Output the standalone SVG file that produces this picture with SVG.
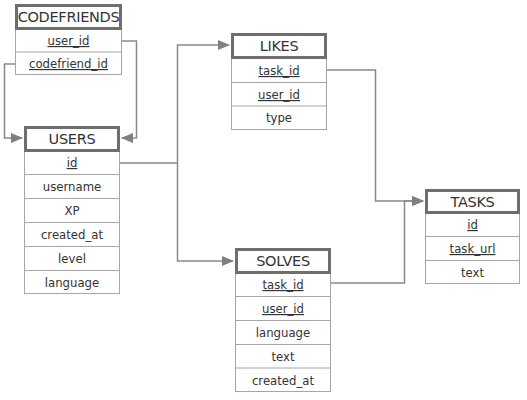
<svg xmlns="http://www.w3.org/2000/svg" width="527" height="400" viewBox="0 0 527 400">
<defs>
<style>
.hd{fill:#fff;stroke:#6e6e6e;stroke-width:3}
.bd{fill:#fff;stroke:#a6a6a6;stroke-width:1}
.sep{stroke:#a6a6a6;stroke-width:1}
.ht{font-family:"DejaVu Sans",sans-serif;font-size:14.5px;fill:#333;text-anchor:middle;letter-spacing:-0.3px}
.rt{font-family:"DejaVu Sans",sans-serif;font-size:11.7px;fill:#333;text-anchor:middle}
.u{text-decoration:underline}
.cn{fill:none;stroke:#8a8a8a;stroke-width:1.5}
</style>
<marker id="ar" markerWidth="12" markerHeight="10" refX="11" refY="5" orient="auto" markerUnits="userSpaceOnUse">
<path d="M0,0 L12,5 L0,10 Z" fill="#808080"/>
</marker>
</defs>
<g id="connectors">
<polyline class="cn" points="15,64 4.5,64 4.5,138 22,138" marker-end="url(#ar)"/>
<polyline class="cn" points="122,41 136.5,41 136.5,138 122,138" marker-end="url(#ar)"/>
<polyline class="cn" points="120,163 177.5,163 177.5,45 229,45" marker-end="url(#ar)"/>
<polyline class="cn" points="177.5,163 177.5,261 233,261" marker-end="url(#ar)"/>
<polyline class="cn" points="327,70 375.5,70 375.5,201 423,201" marker-end="url(#ar)"/>
<polyline class="cn" points="331,283 404.5,283 404.5,201 423,201" marker-end="url(#ar)"/>
</g>
<g id="codefriends">
<rect class="bd" x="15.5" y="28.5" width="106" height="46"/>
<line class="sep" x1="15.5" y1="52" x2="121.5" y2="52"/>
<rect class="hd" x="16.5" y="5.5" width="104" height="23"/>
<text class="ht" x="68.5" y="22">CODEFRIENDS</text>
<text class="rt u" x="68.5" y="45"> user_id</text>
<text class="rt u" x="68.5" y="68">codefriend_id</text>
</g>
<g id="users">
<rect class="bd" x="24.5" y="150.5" width="95" height="143"/>
<line class="sep" x1="24.5" y1="174.5" x2="119.5" y2="174.5"/>
<line class="sep" x1="24.5" y1="198.5" x2="119.5" y2="198.5"/>
<line class="sep" x1="24.5" y1="222.5" x2="119.5" y2="222.5"/>
<line class="sep" x1="24.5" y1="246.5" x2="119.5" y2="246.5"/>
<line class="sep" x1="24.5" y1="270.5" x2="119.5" y2="270.5"/>
<rect class="hd" x="25.5" y="127.5" width="93" height="23"/>
<text class="ht" x="72" y="144">USERS</text>
<text class="rt u" x="72" y="167"> id</text>
<text class="rt" x="72" y="191">username</text>
<text class="rt" x="72" y="215">XP</text>
<text class="rt" x="72" y="239">created_at</text>
<text class="rt" x="72" y="263">level</text>
<text class="rt" x="72" y="287">language</text>
</g>
<g id="likes">
<rect class="bd" x="231.5" y="58.5" width="95" height="71"/>
<line class="sep" x1="231.5" y1="82.5" x2="326.5" y2="82.5"/>
<line class="sep" x1="231.5" y1="106" x2="326.5" y2="106"/>
<rect class="hd" x="232.5" y="34.5" width="93" height="23"/>
<text class="ht" x="279" y="51">LIKES</text>
<text class="rt u" x="279" y="75"> task_id</text>
<text class="rt u" x="279" y="99">user_id</text>
<text class="rt" x="279" y="122">type</text>
</g>
<g id="solves">
<rect class="bd" x="235.5" y="272.5" width="95" height="119"/>
<line class="sep" x1="235.5" y1="296.5" x2="330.5" y2="296.5"/>
<line class="sep" x1="235.5" y1="320.5" x2="330.5" y2="320.5"/>
<line class="sep" x1="235.5" y1="344.5" x2="330.5" y2="344.5"/>
<line class="sep" x1="235.5" y1="368" x2="330.5" y2="368"/>
<rect class="hd" x="236.5" y="249.5" width="93" height="23"/>
<text class="ht" x="283" y="266">SOLVES</text>
<text class="rt u" x="283" y="289"> task_id</text>
<text class="rt u" x="283" y="313">user_id</text>
<text class="rt" x="283" y="337">language</text>
<text class="rt" x="283" y="361">text</text>
<text class="rt" x="283" y="385">created_at</text>
</g>
<g id="tasks">
<rect class="bd" x="425.5" y="212.5" width="94" height="71"/>
<line class="sep" x1="425.5" y1="236.5" x2="519.5" y2="236.5"/>
<line class="sep" x1="425.5" y1="260.5" x2="519.5" y2="260.5"/>
<rect class="hd" x="426.5" y="190.5" width="92" height="22"/>
<text class="ht" x="472.5" y="207">TASKS</text>
<text class="rt u" x="472.5" y="229">id</text>
<text class="rt u" x="472.5" y="253">task_url</text>
<text class="rt" x="472.5" y="277">text</text>
</g>
</svg>
